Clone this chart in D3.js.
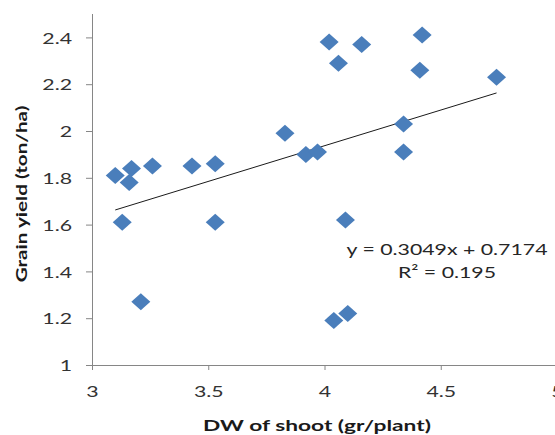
<!DOCTYPE html>
<html><head><meta charset="utf-8">
<script src="https://cdn.jsdelivr.net/npm/d3@7/dist/d3.min.js"></script>
<style>body{margin:0;background:#fff}svg{display:block}</style>
</head><body>
<svg id="c" width="555" height="435"></svg>
<script>
// Data
const dwShoot = [3.10,3.13,3.17,3.16,3.26,3.21,3.43,3.53,3.53,3.83,3.92,3.97,4.02,4.06,4.16,4.42,4.41,4.74,4.34,4.34,4.09,4.04,4.10];
const grainYield = [1.81,1.61,1.84,1.78,1.85,1.27,1.85,1.86,1.61,1.99,1.90,1.91,2.38,2.29,2.37,2.41,2.26,2.23,2.03,1.91,1.62,1.19,1.22];
const xTicks = [3,3.5,4,4.5,5];
const yTicks = [1,1.2,1.4,1.6,1.8,2,2.2,2.4];
const trendSlope = 0.3049;
const trendIntercept = 0.7174;
const eqLabel = "y = 0.3049x + 0.7174";
const r2Label = "R² = 0.195";
const xTitle = "DW of shoot (gr/plant)";
const yTitle = "Grain yield (ton/ha)";

(function(){
const svg = d3.select("#c");
const mLeft = 92, mBottom = 365, mTop = 14, mRight = 557;
const x = d3.scaleLinear().domain([3,5]).range([mLeft,mRight]);
const y = d3.scaleLinear().domain([1,2.5]).range([mBottom,mTop]);
const FONT = "Lato, 'Open Sans', sans-serif";
const SX = 1.33;
function stretch(sel,k){ sel.each(function(){ const w=this.getComputedTextLength(); this.setAttribute("textLength", w*k); this.setAttribute("lengthAdjust","spacingAndGlyphs"); }); }

// Axes
const gx = svg.append("g").attr("transform",`translate(0,${mBottom})`)
  .call(d3.axisBottom(x).tickValues(xTicks).tickFormat(d3.format("~g")).tickSize(5).tickSizeOuter(0));
const gy = svg.append("g").attr("transform",`translate(${mLeft},0)`)
  .call(d3.axisLeft(y).tickValues(yTicks).tickFormat(d3.format("~g")).tickSize(6).tickSizeOuter(0));
[gx,gy].forEach(g=>{
  g.select(".domain").attr("stroke","#868686").attr("stroke-width",1);
  g.selectAll(".tick line").attr("stroke","#868686");
  g.selectAll(".tick text").attr("fill","#333").style("font-family",FONT).style("font-size","16px");
});
gx.selectAll(".tick text").attr("y",32).attr("dy",0);
gy.selectAll(".tick text").attr("x",-20).attr("dy","0.36em");
stretch(gx.selectAll(".tick text"),SX);
stretch(gy.selectAll(".tick text"),SX);
gy.select(".domain").attr("d",`M0.5,${mBottom}V${mTop}`);
gx.select(".domain").attr("d",`M${mLeft},0.5H555`);

// Trend line
const xmin = d3.min(dwShoot), xmax = d3.max(dwShoot);
svg.append("line")
  .attr("x1",x(xmin)).attr("y1",y(trendSlope*xmin+trendIntercept))
  .attr("x2",x(xmax)).attr("y2",y(trendSlope*xmax+trendIntercept))
  .attr("stroke","#1a1a1a").attr("stroke-width",1);

// Points
const diamond = "M0,-8.5L9.5,0L0,8.5L-9.5,0Z";
svg.append("g").selectAll("path").data(dwShoot.map((d,i)=>[d,grainYield[i]])).join("path")
  .attr("d",diamond).attr("transform",d=>`translate(${x(d[0])},${y(d[1])})`)
  .attr("fill","#4a7ebb");

// Equation
const eq = svg.append("g").style("font-family",FONT).style("font-size","16px").attr("fill","#262626").attr("text-anchor","middle");
eq.append("text").attr("x",447).attr("y",255).text(eqLabel);
eq.append("text").attr("x",447).attr("y",278).text(r2Label);
stretch(eq.selectAll("text"),SX);

// Titles
const xt = svg.append("text").attr("x",317).attr("y",431).attr("text-anchor","middle")
  .style("font-family",FONT).style("font-size","16px").style("font-weight","bold").attr("fill","#1a1a1a").text(xTitle);
stretch(xt,1.42);
const yt = svg.append("text").attr("transform","translate(27,194) rotate(-90)").attr("text-anchor","middle")
  .style("font-family",FONT).style("font-size","16px").style("font-weight","bold").attr("fill","#1a1a1a").text(yTitle);
stretch(yt,1.29);
})();
</script>
</body></html>
